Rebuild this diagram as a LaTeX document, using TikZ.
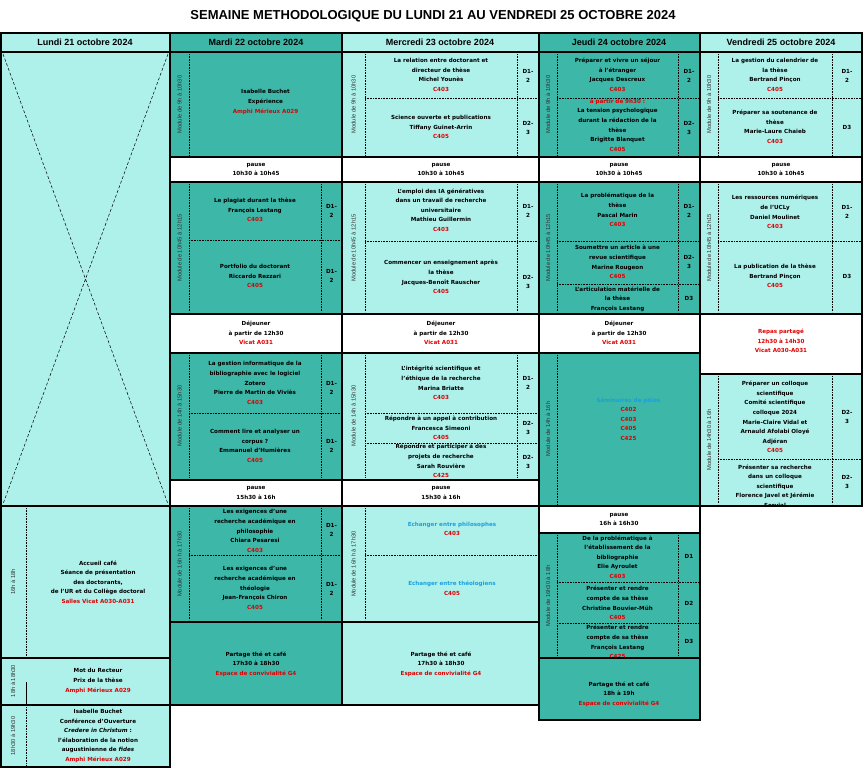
\documentclass[tikz,border=0pt]{standalone}
\usepackage{fontspec}
\setmainfont{DejaVu Sans}
\newfontfamily\dejab{DejaVu Sans}[BoldFont=* Bold]
\newfontfamily\libs{Liberation Sans}
\definecolor{lc}{HTML}{AEF0EA}
\definecolor{tc}{HTML}{3CB7A8}
\definecolor{cred}{HTML}{E00000}
\definecolor{cblue}{HTML}{1BA0E0}
\newcommand\R[1]{\textcolor{cred}{#1}}
\newcommand\B[1]{\textcolor{cblue}{#1}}
\newcommand\blk[5]{\draw[blkl,fill=#5] (#1,#2) rectangle (#3,#4);}
\newcommand\dl[4]{\draw[dotl] (#1,#2) -- (#3,#4);}
\tikzset{
 blkl/.style={line width=1.6pt},
 dotl/.style={densely dotted,line width=0.6pt},
 txt/.style={font=\fontsize{5.6}{9.6}\selectfont\bfseries, align=center, inner sep=0},
 mlab/.style={font=\libs\fontsize{5.8}{6}\selectfont, rotate=90, inner sep=0, text=black!80},
 hdr/.style={font=\libs\fontsize{9}{10}\selectfont\bfseries, inner sep=0},
}
\begin{document}
\begin{tikzpicture}[x=1pt,y=-1pt]
\useasboundingbox (0,0) rectangle (867,773);
\fill[white] (0,0) rectangle (867,773);
\node[font=\libs\fontsize{13}{14}\selectfont\bfseries] (title) at (433,16) {SEMAINE METHODOLOGIQUE DU LUNDI 21 AU VENDREDI 25 OCTOBRE 2024};
% headers
\blk{1}{33}{170}{52}{lc}\blk{170}{33}{342}{52}{tc}\blk{342}{33}{539}{52}{lc}\blk{539}{33}{700}{52}{tc}\blk{700}{33}{862}{52}{lc}
\node[hdr] (h1) at (85,42.5) {Lundi 21 octobre 2024};
\node[hdr] (h2) at (256,42.5) {Mardi 22 octobre 2024};
\node[hdr] (h3) at (440,42.5) {Mercredi 23 octobre 2024};
\node[hdr] (h4) at (619,42.5) {Jeudi 24 octobre 2024};
\node[hdr] (h5) at (781,42.5) {Vendredi 25 octobre 2024};
% ===== Col1
\blk{1}{52}{170}{506}{lc}
\draw[densely dashed,line width=0.5pt] (3,54) -- (168,504) (168,54) -- (3,504);
\blk{1}{506}{170}{658}{lc}\dl{26}{508}{26}{656}
\node[mlab] (l1) at (13,582) {16h à 18h};
\node[txt] (c1a) at (98,582) {Accueil café\\Séance de présentation\\des doctorants,\\de l'UR et du Collège doctoral\\\R{Salles Vicat A030-A031}};
\blk{1}{658}{170}{705}{lc}\draw[line width=0.6pt] (26,682) -- (26,705);
\node[mlab] (l2) at (13,681) {18h à 18h30};
\node[txt] (c1b) at (98,681) {Mot du Recteur\\Prix de la thèse\\\R{Amphi Mérieux A029}};
\blk{1}{705}{170}{767}{lc}\dl{26}{707}{26}{765}
\node[mlab] (l3) at (13,736) {18h30 à 19h30};
\node[txt] (c1c) at (98,736) {Isabelle Buchet\\Conférence d'Ouverture\\\textit{Credere in Christum} :\\l'élaboration de la notion\\augustinienne de \textit{fides}\\\R{Amphi Mérieux A029}};
% ===== Col2
\blk{170}{52}{342}{157}{tc}\dl{189}{54}{189}{155}
\node[mlab] (m21) at (179.5,104.5) {Module de 9h à 10h30};
\node[txt] (t21) at (265.5,102) {Isabelle Buchet\\Expérience\\\R{Amphi Mérieux A029}};
\blk{170}{157}{342}{182}{white}
\node[txt] (p21) at (256,169.5) {pause\\10h30 à 10h45};
\blk{170}{182}{342}{314}{tc}\dl{189}{184}{189}{312}\dl{321}{184}{321}{312}\dl{189}{240}{342}{240}
\node[mlab] (m22) at (179.5,248) {Module de 10h45 à 12h15};
\node[txt] (t22) at (255,210) {Le plagiat durant la thèse\\François Lestang\\\R{C403}};
\node[txt] (d22) at (331.5,211) {D1-\\2};
\node[txt] (t23) at (255,276) {Portfolio du doctorant\\Riccardo Rezzari\\\R{C405}};
\node[txt] (d23) at (331.5,276) {D1-\\2};
\blk{170}{314}{342}{353}{white}
\node[txt] (p22) at (256,333) {Déjeuner\\à partir de 12h30\\\R{Vicat A031}};
\blk{170}{353}{342}{480}{tc}\dl{189}{355}{189}{478}\dl{321}{355}{321}{478}\dl{189}{413}{342}{413}
\node[mlab] (m23) at (179.5,416) {Module de 14h à 15h30};
\node[txt] (t24) at (255,383) {La gestion informatique de la\\bibliographie avec le logiciel\\Zotero\\Pierre de Martin de Viviès\\\R{C403}};
\node[txt] (d24) at (331.5,388) {D1-\\2};
\node[txt] (t25) at (255,446) {Comment lire et analyser un\\corpus ?\\Emmanuel d'Humières\\\R{C405}};
\node[txt] (d25) at (331.5,446) {D1-\\2};
\blk{170}{480}{342}{506}{white}
\node[txt] (p23) at (256,493) {pause\\15h30 à 16h};
\blk{170}{506}{342}{622}{tc}\dl{189}{508}{189}{620}\dl{321}{508}{321}{620}\dl{189}{555}{342}{555}
\node[mlab] (m24) at (179.5,564) {Module de 16h h à 17h30};
\node[txt] (t26) at (255,531) {Les exigences d'une\\recherche académique en\\philosophie\\Chiara Pesaresi\\\R{C403}};
\node[txt] (d26) at (331.5,530) {D1-\\2};
\node[txt] (t27) at (255,588) {Les exigences d'une\\recherche académique en\\théologie\\Jean-François Chiron\\\R{C405}};
\node[txt] (d27) at (331.5,589) {D1-\\2};
\blk{170}{622}{342}{705}{tc}
\node[txt] (p24) at (256,664) {Partage thé et café\\17h30 à 18h30\\\R{Espace de convivialité G4}};
% ===== Col3
\blk{342}{52}{539}{157}{lc}\dl{365}{54}{365}{155}\dl{517}{54}{517}{155}\dl{365}{98}{539}{98}
\node[mlab] (m31) at (353.5,104.5) {Module de 9h à 10h30};
\node[txt] (t31) at (441,75) {La relation entre doctorant et\\directeur de thèse\\Michel Younès\\\R{C403}};
\node[txt] (d31) at (528,76) {D1-\\2};
\node[txt] (t32) at (441,127) {Science ouverte et publications\\Tiffany Guinet-Arrin\\\R{C405}};
\node[txt] (d32) at (528,128) {D2-\\3};
\blk{342}{157}{539}{182}{white}
\node[txt] (p31) at (441,169.5) {pause\\10h30 à 10h45};
\blk{342}{182}{539}{314}{lc}\dl{365}{184}{365}{312}\dl{517}{184}{517}{312}\dl{365}{241}{539}{241}
\node[mlab] (m32) at (353.5,248) {Module de 10h45 à 12h15};
\node[txt] (t33) at (441,210) {L'emploi des IA génératives\\dans un travail de recherche\\universitaire\\Mathieu Guillermin\\\R{C403}};
\node[txt] (d33) at (528,211) {D1-\\2};
\node[txt] (t34) at (441,277) {Commencer un enseignement après\\la thèse\\Jacques-Benoît Rauscher\\\R{C405}};
\node[txt] (d34) at (528,282) {D2-\\3};
\blk{342}{314}{539}{353}{white}
\node[txt] (p32) at (441,333) {Déjeuner\\à partir de 12h30\\\R{Vicat A031}};
\blk{342}{353}{539}{480}{lc}\dl{365}{355}{365}{478}\dl{517}{355}{517}{478}\dl{365}{413}{539}{413}\dl{365}{443}{539}{443}
\node[mlab] (m33) at (353.5,416) {Module de 14h à 15h30};
\node[txt] (t35) at (441,383) {L'intégrité scientifique et\\l'éthique de la recherche\\Marina Briatte\\\R{C403}};
\node[txt] (d35) at (528,383) {D1-\\2};
\node[txt] (t36) at (441,428) {Répondre à un appel à contribution\\Francesca Simeoni\\\R{C405}};
\node[txt] (d36) at (528,428) {D2-\\3};
\begin{scope}
\clip (365,444) rectangle (517,479);
\node[txt] (t37) at (441,461) {Répondre et participer à des\\projets de recherche\\Sarah Rouvière\\\R{C425}};
\end{scope}
\node[txt] (d37) at (528,462) {D2-\\3};
\blk{342}{480}{539}{506}{white}
\node[txt] (p33) at (441,493) {pause\\15h30 à 16h};
\blk{342}{506}{539}{622}{lc}\dl{365}{508}{365}{620}\dl{365}{555}{539}{555}
\node[mlab] (m34) at (353.5,564) {Module de 16h h à 17h30};
\node[txt] (t38) at (452,529) {\B{Echanger entre philosophes}\\\R{C403}};
\node[txt] (t39) at (452,588) {\B{Echanger entre théologiens}\\\R{C405}};
\blk{342}{622}{539}{705}{lc}
\node[txt] (p34) at (441,664) {Partage thé et café\\17h30 à 18h30\\\R{Espace de convivialité G4}};
% ===== Col4
\blk{539}{52}{700}{157}{tc}\dl{557}{54}{557}{155}\dl{678}{54}{678}{155}\dl{557}{98}{700}{98}
\node[mlab] (m41) at (548,104.5) {Module de 9h à 10h30};
\node[txt] (t41) at (617.5,75) {Préparer et vivre un séjour\\à l'étranger\\Jacques Descreux\\\R{C403}};
\node[txt] (d41) at (689,76) {D1-\\2};
\begin{scope}
\clip (557,99) rectangle (678,156);
\node[txt] (t42) at (617.5,125) {\R{à partir de 9h30 :}\\La tension psychologique\\durant la rédaction de la\\thèse\\Brigitte Blanquet\\\R{C405}};
\end{scope}
\node[txt] (d42) at (689,128) {D2-\\3};
\blk{539}{157}{700}{182}{white}
\node[txt] (p41) at (619,169.5) {pause\\10h30 à 10h45};
\blk{539}{182}{700}{314}{tc}\dl{557}{184}{557}{312}\dl{678}{184}{678}{312}\dl{557}{241}{700}{241}\dl{557}{284}{700}{284}
\node[mlab] (m42) at (548,248) {Module de 10h45 à 12h15};
\node[txt] (t43) at (617.5,210) {La problématique de la\\thèse\\Pascal Marin\\\R{C403}};
\node[txt] (d43) at (689,211) {D1-\\2};
\begin{scope}
\clip (557,242) rectangle (678,283);
\node[txt] (t44) at (617.5,262) {Soumettre un article à une\\revue scientifique\\Marine Rougeon\\\R{C405}};
\end{scope}
\node[txt] (d44) at (689,262) {D2-\\3};
\begin{scope}
\clip (557,285) rectangle (678,313);
\node[txt] (t45) at (617.5,299) {L'articulation matérielle de\\la thèse\\François Lestang};
\end{scope}
\node[txt] (d45) at (689,298) {D3};
\blk{539}{314}{700}{353}{white}
\node[txt] (p42) at (619,333) {Déjeuner\\à partir de 12h30\\\R{Vicat A031}};
\blk{539}{353}{700}{506}{tc}\dl{557}{355}{557}{504}
\node[mlab] (m43) at (548,429) {Module de 14h à 16h};
\node[txt] (t46) at (628.5,419) {\B{Séminaires de pôles}\\\R{C402}\\\R{C403}\\\R{C405}\\\R{C425}};
\blk{539}{506}{700}{533}{white}
\node[txt] (p43) at (619,519.5) {pause\\16h à 16h30};
\blk{539}{533}{700}{658}{tc}\dl{557}{535}{557}{656}\dl{678}{535}{678}{656}\dl{557}{582}{700}{582}\dl{557}{623}{700}{623}
\node[mlab] (m44) at (548,596) {Module de 16h30 à 18h};
\node[txt] (t47) at (617.5,557) {De la problématique à\\l'établissement de la\\bibliographie\\Elie Ayroulet\\\R{C403}};
\node[txt] (d47) at (689,556) {D1};
\node[txt] (t48) at (617.5,603) {Présenter et rendre\\compte de sa thèse\\Christine Bouvier-Müh\\\R{C405}};
\node[txt] (d48) at (689,603) {D2};
\begin{scope}
\clip (557,624) rectangle (678,657);
\node[txt] (t49) at (617.5,642) {Présenter et rendre\\compte de sa thèse\\François Lestang\\\R{C425}};
\end{scope}
\node[txt] (d49) at (689,641) {D3};
\blk{539}{658}{700}{720}{tc}
\node[txt] (p44) at (619,694) {Partage thé et café\\18h à 19h\\\R{Espace de convivialité G4}};
% ===== Col5
\blk{700}{52}{862}{157}{lc}\dl{718}{54}{718}{155}\dl{832}{54}{832}{155}\dl{718}{98}{862}{98}
\node[mlab] (m51) at (709,104.5) {Module de 9h à 10h30};
\node[txt] (t51) at (775,75) {La gestion du calendrier de\\la thèse\\Bertrand Pinçon\\\R{C405}};
\node[txt] (d51) at (847,76) {D1-\\2};
\node[txt] (t52) at (775,127) {Préparer sa soutenance de\\thèse\\Marie-Laure Chaieb\\\R{C403}};
\node[txt] (d52) at (847,127) {D3};
\blk{700}{157}{862}{182}{white}
\node[txt] (p51) at (781,169.5) {pause\\10h30 à 10h45};
\blk{700}{182}{862}{314}{lc}\dl{718}{184}{718}{312}\dl{832}{184}{832}{312}\dl{718}{241}{862}{241}
\node[mlab] (m52) at (709,248) {Module de 10h45 à 12h15};
\node[txt] (t53) at (775,212) {Les ressources numériques\\de l'UCLy\\Daniel Moulinet\\\R{C403}};
\node[txt] (d53) at (847,212) {D1-\\2};
\node[txt] (t54) at (775,276) {La publication de la thèse\\Bertrand Pinçon\\\R{C405}};
\node[txt] (d54) at (847,276) {D3};
\blk{700}{314}{862}{374}{white}
\node[txt] (p52) at (781,341) {\R{Repas partagé}\\\R{12h30 à 14h30}\\\R{Vicat A030-A031}};
\blk{700}{374}{862}{506}{lc}\dl{718}{376}{718}{504}\dl{832}{376}{832}{504}\dl{718}{459}{862}{459}
\node[mlab] (m53) at (709,440) {Module de 14h30 à 16h};
\node[txt] (t55) at (775,417) {Préparer un colloque\\scientifique\\Comité scientifique\\colloque 2024\\Marie-Claire Vidal et\\Arnauld Afolabi Oloyé\\Adjéran\\\R{C405}};
\node[txt] (d55) at (847,417) {D2-\\3};
\begin{scope}
\clip (718,460) rectangle (832,505);
\node[txt] (t56) at (775,486) {Présenter sa recherche\\dans un colloque\\scientifique\\Florence Javel et Jérémie\\Servial};
\end{scope}
\node[txt] (d56) at (847,482) {D2-\\3};
\end{tikzpicture}
\end{document}
